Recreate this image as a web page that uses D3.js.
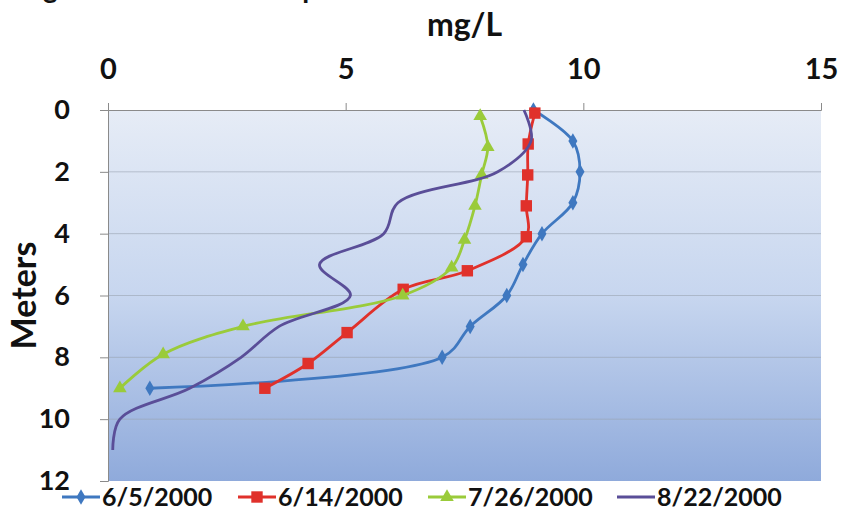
<!DOCTYPE html>
<html>
<head>
<meta charset="utf-8">
<script src="https://cdn.jsdelivr.net/npm/d3@7"></script>
<style>
  body { margin: 0; background: #fff; }
  svg { display: block; }
  text { font-family: Lato, "Open Sans", sans-serif; font-weight: 700; fill: #111; }
</style>
</head>
<body>
<svg id="chart" width="853" height="512"></svg>
<script>
// depth (m) / value (mg/L)
var series = ['6/5/2000', '6/14/2000', '7/26/2000', '8/22/2000'];

var depth1 = [0, 1, 2, 3, 4, 5, 6, 7, 8, 9];
var value1 = [8.95, 9.78, 9.93, 9.78, 9.13, 8.73, 8.39, 7.62, 7.03, 0.88];

var depth2 = [0.1, 1.1, 2.1, 3.1, 4.1, 5.2, 5.8, 7.2, 8.2, 9.0];
var value2 = [8.98, 8.84, 8.83, 8.8, 8.8, 7.56, 6.21, 5.03, 4.21, 3.3];

var depth3 = [0.2, 1.2, 2.1, 3.1, 4.2, 5.1, 6.0, 7.0, 7.9, 9.0];
var value3 = [7.83, 7.99, 7.86, 7.72, 7.5, 7.23, 6.2, 2.84, 1.16, 0.25];

var depth4 = [0, 1, 2, 3, 4, 5, 6, 7, 8, 9, 10, 11];
var value4 = [8.75, 8.9, 8.2, 6.1, 5.8, 4.45, 5.1, 3.6, 2.8, 1.72, 0.25, 0.1];

var xTicks = [0, 5, 10, 15];
var yTicks = [0, 2, 4, 6, 8, 10, 12];

var colors = ['#3f78c0', '#e0312b', '#9acb3a', '#5a4e98'];
var markers = [d3.symbolDiamond, d3.symbolSquare, d3.symbolTriangle, null];
var markerSize = [70, 130, 80, 0];

var svg = d3.select('#chart');

var x = d3.scaleLinear().domain([0, 15]).range([108, 821]);
var y = d3.scaleLinear().domain([0, 12]).range([110, 481]);

// cut off caption at the very top
svg.append('text')
    .attr('x', 20).attr('y', -2)
    .style('font-size', '28px')
    .text('Figure 6. Seasonal DO profiles');

// plot background gradient
var defs = svg.append('defs');
var grad = defs.append('linearGradient').attr('id', 'bg')
    .attr('x1', 0).attr('y1', 0).attr('x2', 0).attr('y2', 1);
grad.append('stop').attr('offset', '0%').attr('stop-color', '#e6ecf6');
grad.append('stop').attr('offset', '50%').attr('stop-color', '#c7d6ef');
grad.append('stop').attr('offset', '100%').attr('stop-color', '#8faadb');

svg.append('rect')
    .attr('x', x(0)).attr('y', y(0))
    .attr('width', x(15) - x(0)).attr('height', y(12) - y(0))
    .attr('fill', 'url(#bg)');

// horizontal gridlines
svg.append('g').selectAll('line').data(yTicks.slice(1, -1)).enter().append('line')
    .attr('x1', x(0)).attr('x2', x(15))
    .attr('y1', function(d) { return y(d); })
    .attr('y2', function(d) { return y(d); })
    .style('stroke', '#9aa3b0').style('stroke-opacity', 0.6).style('stroke-width', 1);

// axes
var xAxis = svg.append('g')
    .attr('transform', 'translate(0,' + y(0) + ')')
    .call(d3.axisTop(x).tickValues(xTicks).tickSize(7).tickPadding(24));
xAxis.select('.domain').style('stroke', '#8a8a8a');
xAxis.selectAll('.tick line').style('stroke', '#8a8a8a');
xAxis.selectAll('.tick text').style('font-size', '29px').style('fill', '#111')
    .attr('font-family', null);

var yAxis = svg.append('g')
    .attr('transform', 'translate(' + x(0) + ',0)')
    .call(d3.axisLeft(y).tickValues(yTicks).tickSize(8).tickPadding(30));
yAxis.select('.domain').style('stroke', '#8a8a8a');
yAxis.selectAll('.tick line').style('stroke', '#8a8a8a');
yAxis.selectAll('.tick text').style('font-size', '27px').style('fill', '#111')
    .attr('font-family', null);

// axis titles
svg.append('text')
    .attr('x', (x(0) + x(15)) / 2).attr('y', 36)
    .attr('text-anchor', 'middle')
    .style('font-size', '32px')
    .text('mg/L');

svg.append('text')
    .attr('transform', 'translate(36,' + y(6) + ') rotate(-90)')
    .attr('text-anchor', 'middle')
    .style('font-size', '34px')
    .text('Meters');

// lines
var depths = [depth1, depth2, depth3, depth4];
var values = [value1, value2, value3, value4];

var line = d3.line()
    .x(function(d) { return x(d[1]); })
    .y(function(d) { return y(d[0]); })
    .curve(d3.curveCatmullRom.alpha(0.5));

for (var i = 0; i < series.length; i++) {

    var pts = depths[i].map(function(d, j) { return [d, values[i][j]]; });

    svg.append('path').datum(pts)
        .style('fill', 'none')
        .style('stroke', colors[i])
        .style('stroke-width', 2.8)
        .attr('d', line);

    if (markers[i] == null) continue;

    svg.append('g').selectAll('path').data(pts).enter().append('path')
        .attr('d', d3.symbol().type(markers[i]).size(markerSize[i]))
        .attr('transform', function(d) { return 'translate(' + x(d[1]) + ',' + y(d[0]) + ')'; })
        .style('fill', colors[i]);
}

// legend
var legendX = [62, 238, 428, 617];
var legend = svg.append('g').selectAll('g').data(series).enter().append('g')
    .attr('transform', function(d, i) { return 'translate(' + legendX[i] + ',497)'; });

legend.append('line')
    .attr('x1', 0).attr('x2', 38).attr('y1', 0).attr('y2', 0)
    .style('stroke', function(d, i) { return colors[i]; })
    .style('stroke-width', 2.8);

legend.filter(function(d, i) { return markers[i] != null; }).append('path')
    .attr('d', function(d) { var i = series.indexOf(d); return d3.symbol().type(markers[i]).size(markerSize[i])(); })
    .attr('transform', 'translate(19,0)')
    .style('fill', function(d) { return colors[series.indexOf(d)]; });

legend.append('text')
    .attr('x', 40).attr('y', 9)
    .style('font-size', '25px')
    .text(function(d) { return d; });
</script>
</body>
</html>
